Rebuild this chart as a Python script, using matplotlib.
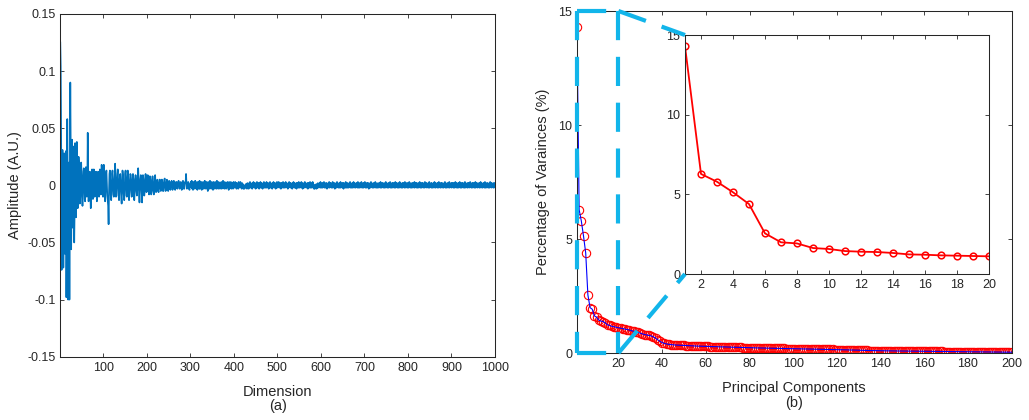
import numpy as np
import matplotlib
matplotlib.use('Agg')
import matplotlib.pyplot as plt
from matplotlib.patches import ConnectionPatch

plt.rcParams['font.family'] = ['Liberation Sans', 'DejaVu Sans']

# ---------------- data: panel (a), amplitude in units of 0.001 A.U. ----------------
amp_early_milli = [
    125, 104, 40, -74, -20, 31, 10, -72, -30, 28,
    -10, -60, 20, 30, -98, -20, 58, 10, -100, -40,
    20, -100, 10, 90, 30, -56, -10, 40, -37, 10,
    34, -5, -50, -20, 37, 15, -28, 5, 38, 10,
    -20, -10, 25, 18, 2, -16, -10, 5, 20, 8,
    -8, -18, -3, 12, 15, 2, -12, -14, 8, 16,
    6, -10, -5, 46, 12, -14, -6, 8, 12, -8,
    -20, -4, 10, 14, -5, -12, 2, 14, 6, -10,
    -8, 4, 12, 2, -14, -6, 10, 12, -4, -10,
    1, 14, 6, -8, -5, 18, 8, -7, -10, 3,
]
amp_mid_milli = [
    18, 6, -10, -14, -4, 10, 13, 1, -9, -13,
    -18, -34, -5, 10, 13, 1, -9, -13, -4, 10,
    13, 5, -8, -10, -3, 9, 19, 4, -10, -9,
    1, 10, 14, 4, -9, -13, -1, 9, 10, 0,
    -10, -16, -1, 13, 9, -4, -10, -13, 0, 10,
    13, 4, -9, -10, 1, 13, 6, -5, -13, -6,
    5, 10, 9, -4, -10, -9, 4, 10, 6, -5,
    -13, -6, 5, 9, 6, -5, -9, -4, 6, 15,
    4, -6, -15, -1, 6, 9, 1, -9, -15, 0,
    9, 6, -4, -9, -5, 5, 10, 4, -6, -5,
    5, 9, 4, -5, -8, 0, 8, 5, -4, -8,
    -5, 4, 8, 2, -5, -8, 0, 6, 9, -1,
    -6, -5, 2, 5, 1, -5, -6, 1, 5, 5,
    -2, -5, -1, 5, 5, 0, -5, -5, 1, 5,
    6, -1, -5, -4, 2, 5, 1, -4, -5, 1,
    4, 3, -2, -4, -1, 3, 4, -1, -4, -2,
    2, 4, 1, -3, -4, 0, 3, 3, -2, -3,
    -1, 3, 4, 0, -3, -2, 2, 3, 1, -4,
    -2, 2, 4, 1, -3, -3, 1, 3, 2, 10,
    2, -3, -2, 2, 3, 0, -3, -4, 1, 2,
]
amp_tail_milli = [
    3, -2, 4, -3, 2, -4, 3, -1, 2, -3, 4, -2, 3, -3, 1, -4, 3, -2, 2, -3,
    4, -3, 2, -2, 3, -4, 2, -1, 3, -3, 2, -2, 4, -3, 1, -2, 3, -3, 2, -5,
    3, -2, 2, -3, 4, -2, 1, -3, 3, -2, 2, -4, 3, -1, 2, -3, 3, -2, 1, -3,
    4, -2, 2, -3, 3, -1, 2, -3, 2, -2, 3, -3, 1, -2, 4, -2, 2, -3, 3, -2,
    2, -3, 1, -2, 3, -2, 2, -4, 3, -1, 2, -2, 3, -3, 1, -2, 2, -3, 3, -2,
    2, -2, 3, -1, 2, -3, 2, -2, 1, -3, 3, -2, 2, -1, 3, -2, 1, -3, 2, -2,
    1, -3, 0, -3, -1, -2, 1, -2, 1, -3, 2, -2, 1, -3, 2, -1, 3, -2, 2, -2,
    1, -3, 2, -2, 3, -1, 2, -2, 2, -3, 1, -2, 3, -2, 2, -1, 2, -3, 1, -2,
    3, -2, 2, -2, 1, -3, 2, -1, 3, -2, 2, -2, 1, -2, 3, -2, 2, -1, 2, -3,
    1, -2, 3, -2, 2, -2, 1, -3, 2, -2, 3, -1, 2, -2, 2, -3, 1, -2, 3, -2,
    2, -1, 3, -2, 1, -2, 2, -3, 2, -1, 2, -2, 3, -2, 1, -2, 2, -2, 3, -1,
    2, -2, 1, -3, 2, -2, 3, -1, 2, -2, 2, -2, 1, -3, 2, -1, 3, -2, 2, -2,
    1, -2, 2, -3, 2, -1, 2, -2, 3, -2, 1, -2, 2, -1, 3, -2, 2, -3, 1, -2,
    2, -2, 3, -1, 2, -2, 1, -2, 2, -3, 2, -1, 2, -2, 3, -2, 1, -2, 2, -2,
    3, -1, 1, -3, 0, -3, -1, -2, 1, -3, 1, -2, 2, -2, 1, -1, 2, -2, 3, -2,
    1, -2, 2, -2, 2, -1, 3, -2, 1, -2, 2, -2, 2, -3, 1, -1, 2, -2, 3, -2,
    2, -1, 2, -2, 1, -2, 3, -2, 2, -1, 2, -3, 1, -2, 2, -2, 3, -1, 2, -2,
    1, -2, 2, -2, 3, -2, 1, -1, 2, -2, 2, -3, 2, -1, 1, -2, 3, -2, 2, -2,
    2, -2, 1, -2, 2, -1, 3, -2, 2, -2, 1, -2, 2, -2, 3, -1, 2, -2, 1, -2,
    2, -1, 2, -2, 3, -2, 1, -2, 2, -2, 2, -1, 3, -2, 1, -2, 2, -2, 2, -1,
    3, -2, 1, -2, 2, -2, 2, -1, 2, -3, 1, -2, 2, -2, 3, -1, 2, -2, 1, -2,
    2, -2, 2, -1, 3, -2, 1, -2, 2, -2, 1, -2, 2, -1, 2, -2, 3, -2, 1, -2,
    2, -1, 2, -2, 1, -2, 2, -2, 3, -1, 2, -2, 1, -2, 2, -2, 2, -1, 3, -2,
    1, -2, 2, -2, 2, -1, 2, -2, 1, -2, 3, -2, 2, -1, 2, -2, 1, -2, 2, -2,
    3, -1, 2, -2, 1, -2, 2, -2, 2, -1, 2, -2, 3, -2, 1, -1, 2, -2, 2, -2,
    1, -2, 3, -1, 2, -2, 1, -2, 2, -2, 2, -1, 1, -2, 3, -2, 2, -1, 2, -2,
    2, -2, 1, -2, 2, -1, 3, -2, 1, -2, 2, -2, 2, -1, 2, -2, 1, -2, 3, -1,
    2, -2, 2, -1, 1, -2, 2, -2, 3, -2, 1, -1, 2, -2, 2, -2, 1, -2, 2, -1,
    3, -2, 2, -2, 1, -1, 2, -2, 2, -2, 3, -1, 1, -2, 2, -2, 2, -1, 2, -2,
    1, -2, 2, -1, 3, -2, 2, -2, 1, -2, 2, -1, 2, -2, 3, -2, 1, -1, 2, -2,
    2, -1, 2, -2, 2, -2, 1, -2, 3, -1, 2, -2, 1, -2, 2, -2, 2, -1, 3, -2,
    1, -2, 2, -2, 2, -1, 2, -2, 1, -2, 3, -2, 2, -1, 1, -2, 2, -2, 2, -1,
    2, -2, 3, -1, 1, -2, 2, -2, 2, -1, 2, -2, 1, -2, 3, -2, 2, -1, 2, -2,
    1, -1, 2, -2, 2, -2, 3, -1, 2, -2, 1, -2, 2, -1, 2, -2, 3, -2, 1, -2,
    2, -1, 2, -2, 1, -2, 2, -2, 3, -1, 2, -2, 2, -1, 1, -2, 2, -2, 2, 0,
]
left_xticks = [100, 200, 300, 400, 500, 600, 700, 800, 900, 1000]
left_yticks = [-0.15, -0.1, -0.05, 0, 0.05, 0.1, 0.15]
left_yticklabels = ['-0.15', '-0.1', '-0.05', '0', '0.05', '0.1', '0.15']

# ---------------- data: panel (b), percentage of variance ----------------
pc_first20 = [14.29, 6.28, 5.79, 5.13, 4.39, 2.55, 1.99, 1.92, 1.63, 1.57,
              1.44, 1.40, 1.38, 1.32, 1.23, 1.21, 1.17, 1.15, 1.13, 1.11]
pc_rest = [
    1.09, 1.07, 1.05, 1.03, 1.01, 0.98, 0.95, 0.93, 0.90, 0.87,
    0.84, 0.81, 0.79, 0.77, 0.75, 0.71, 0.65, 0.58, 0.51, 0.46,
    0.42, 0.40, 0.38, 0.37, 0.36, 0.35, 0.345, 0.34, 0.335, 0.33,
    0.325, 0.32, 0.315, 0.31, 0.307, 0.304, 0.30, 0.297, 0.294, 0.29,
    0.287, 0.284, 0.281, 0.278, 0.275, 0.272, 0.269, 0.266, 0.263, 0.26,
    0.257, 0.254, 0.251, 0.248, 0.245, 0.242, 0.239, 0.236, 0.233, 0.23,
    0.228, 0.226, 0.224, 0.222, 0.22, 0.218, 0.216, 0.214, 0.212, 0.21,
    0.208, 0.206, 0.204, 0.202, 0.20, 0.198, 0.196, 0.194, 0.192, 0.19,
    0.188, 0.186, 0.184, 0.182, 0.18, 0.178, 0.176, 0.174, 0.172, 0.17,
    0.168, 0.166, 0.164, 0.162, 0.16, 0.158, 0.156, 0.154, 0.152, 0.15,
    0.147, 0.144, 0.141, 0.138, 0.135, 0.132, 0.129, 0.126, 0.123, 0.12,
    0.118, 0.115, 0.113, 0.111, 0.109, 0.107, 0.105, 0.103, 0.101, 0.10,
    0.098, 0.097, 0.095, 0.094, 0.092, 0.091, 0.089, 0.088, 0.086, 0.085,
    0.084, 0.083, 0.082, 0.081, 0.08, 0.079, 0.078, 0.077, 0.076, 0.075,
    0.074, 0.073, 0.072, 0.071, 0.07, 0.069, 0.068, 0.067, 0.066, 0.065,
    0.064, 0.063, 0.062, 0.061, 0.06, 0.059, 0.058, 0.057, 0.056, 0.055,
    0.054, 0.053, 0.052, 0.051, 0.05, 0.049, 0.048, 0.047, 0.046, 0.045,
    0.044, 0.043, 0.042, 0.041, 0.04, 0.039, 0.038, 0.037, 0.036, 0.035,
]
right_xticks = [20, 40, 60, 80, 100, 120, 140, 160, 180, 200]
right_yticks = [0, 5, 10, 15]
inset_xticks = [2, 4, 6, 8, 10, 12, 14, 16, 18, 20]
inset_yticks = [0, 5, 10, 15]
zoom_x = (1, 20)
zoom_y = (0, 15)

signal = np.array(amp_early_milli + amp_mid_milli + amp_tail_milli) / 1000.0
dims = np.arange(1, len(signal) + 1)
variance = np.array(pc_first20 + pc_rest)
components = np.arange(1, len(variance) + 1)

# ---------------- styling ----------------
TXT = '#262626'
CYAN = '#12B5EA'
TICK_FS = 9
LABEL_FS = 10.5


def style(ax):
    ax.tick_params(direction='in', top=True, right=True, length=3.2, width=0.6,
                   colors=TXT, labelsize=TICK_FS, pad=3.5)
    for s in ax.spines.values():
        s.set_color(TXT)
        s.set_linewidth(0.75)


fig = plt.figure(figsize=(10.29, 4.2), dpi=100)

# panel (a)
ax1 = fig.add_axes([0.0586, 0.1507, 0.4224, 0.816])
ax1.plot(dims, signal, color='#0072BD', lw=1.2)
ax1.set_xlim(1, 1000)
ax1.set_ylim(-0.15, 0.15)
ax1.set_xticks(left_xticks)
ax1.set_yticks(left_yticks)
ax1.set_yticklabels(left_yticklabels)
style(ax1)
ax1.set_xlabel('Dimension\n(a)', fontsize=LABEL_FS, color=TXT, linespacing=1.05, labelpad=8)
ax1.set_ylabel('Amplitude (A.U.)', fontsize=LABEL_FS, color=TXT, labelpad=4)

# panel (b)
ax2 = fig.add_axes([0.5607, 0.1595, 0.4224, 0.8143])
ax2.plot(components, variance, linestyle='none', marker='o', markersize=6,
         markerfacecolor='none', markeredgecolor='red', markeredgewidth=0.8)
ax2.plot(components, variance, color='blue', lw=0.8)
ax2.set_xlim(1, 200)
ax2.set_ylim(0, 15)
ax2.set_xticks(right_xticks)
ax2.set_yticks(right_yticks)
style(ax2)
ax2.set_xlabel('Principal Components\n(b)', fontsize=LABEL_FS, color=TXT, linespacing=1.05, labelpad=8)
ax2.set_ylabel('Percentage of Varainces (%)', fontsize=LABEL_FS, color=TXT, labelpad=6)

dash = (0, (7, 4))
x0, x1 = zoom_x
y0, y1 = zoom_y
for xs, ys in (([x0, x0], [y1, y0]), ([x1, x1], [y1, y0]),
               ([x0, x1], [y1, y1]), ([x0, x1], [y0, y0])):
    ax2.plot(xs, ys, color=CYAN, lw=3, linestyle=dash, clip_on=False,
             solid_capstyle='butt', dash_capstyle='butt', zorder=5)

# inset
axins = fig.add_axes([0.6657, 0.3476, 0.2954, 0.569])
axins.plot(components[:20], variance[:20], color='red', lw=1.3, marker='o',
           markersize=4.8, markerfacecolor='none', markeredgewidth=1.1)
axins.set_xlim(*zoom_x)
axins.set_ylim(*zoom_y)
axins.set_xticks(inset_xticks)
axins.set_yticks(inset_yticks)
style(axins)

for yv in (y1, y0):
    con = ConnectionPatch(xyA=(x1, yv), coordsA=ax2.transData,
                          xyB=(x0, yv), coordsB=axins.transData,
                          color=CYAN, lw=3, linestyle=dash, zorder=6,
                          capstyle='butt')
    fig.add_artist(con)

fig.savefig('out.png', dpi=100)
